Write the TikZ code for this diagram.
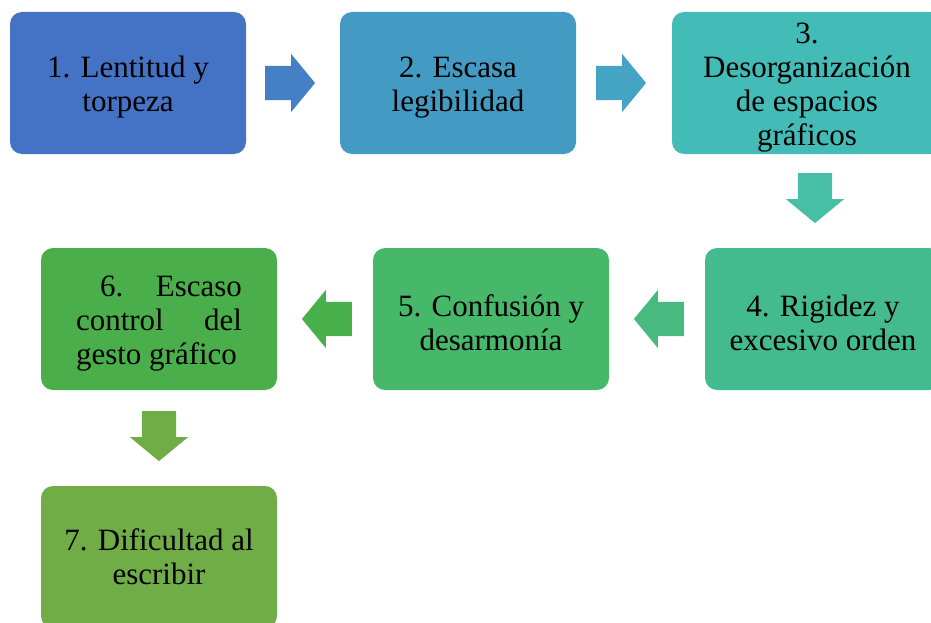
\documentclass[tikz,border=0pt]{standalone}
\usepackage{fontspec}
\setmainfont{Liberation Serif}
\newfontfamily\stagefont{Liberation Serif}
\usetikzlibrary{shapes.arrows,calc}

\definecolor{cBoxA}{HTML}{4472C4}
\definecolor{cBoxB}{HTML}{439BC3}
\definecolor{cBoxC}{HTML}{43BCB7}
\definecolor{cBoxD}{HTML}{44BA8F}
\definecolor{cBoxE}{HTML}{47B769}
\definecolor{cBoxF}{HTML}{4AAF4A}
\definecolor{cBoxG}{HTML}{70AD47}
\definecolor{cArrA}{HTML}{4580C6}
\definecolor{cArrB}{HTML}{45A3C3}
\definecolor{cArrC}{HTML}{47BFA7}
\definecolor{cArrD}{HTML}{48B97F}
\definecolor{cArrE}{HTML}{48B04B}
\definecolor{cArrF}{HTML}{70AD47}

% extra room above the first line, pushes the text a bit down
\newcommand{\padtop}{\rule{0pt}{29pt}}

\begin{document}
\begin{tikzpicture}[x=1pt,y=1pt,yscale=-1,
  stage/.style={rounded corners=12pt,minimum width=236pt,minimum height=142pt,
    inner sep=0pt,align=center,font=\stagefont\fontsize{31}{34}\selectfont},
  flowarrow/.style={single arrow,minimum height=50pt,minimum width=58pt,
    single arrow head extend=12pt,single arrow tip angle=101,inner sep=17pt}]
\useasboundingbox (0,0) rectangle (931,623);
\clip (0,0) rectangle (931,623);

%Rounded Rectangles
\node [stage,fill=cBoxA] (lentitud) at (128,83) {\padtop 1. Lentitud y\\torpeza};
\node [stage,fill=cBoxB] (escasa) at (458,83) {\padtop 2. Escasa\\legibilidad};
\node [stage,fill=cBoxC,minimum width=270pt] (desorg) at (807,83) {\padtop 3.\\Desorganización\\de espacios\\gráficos};
\node [stage,fill=cBoxD] (rigidez) at (823,319) {\padtop 4. Rigidez y\\excesivo orden};
\node [stage,fill=cBoxE] (confusion) at (491,319) {\padtop 5. Confusión y\\desarmonía};
\node [stage,fill=cBoxF] (control) at (159,319) {\hbox to 166pt{\padtop\hspace{24pt}6.\hfill Escaso}\\\hbox to 166pt{control\hfill del}\\\hbox to 166pt{gesto gráfico\hfill}};
\node [stage,fill=cBoxG] (dificultad) at (159,557) {7. Dificultad al\\escribir};

%Block Arrows
\node [flowarrow,fill=cArrA,xshift=-10pt] (ar1) at ($(lentitud.east)!0.5!(escasa.west)$) {};
\node [flowarrow,fill=cArrB,xshift=-10pt] (ar2) at ($(escasa.east)!0.5!(desorg.west)$) {};
\node [flowarrow,fill=cArrC,shape border rotate=270,yshift=10pt] (ar3) at ($(desorg.south)!0.5!(rigidez.north)$) {};
\node [flowarrow,fill=cArrD,shape border rotate=180,xshift=9pt] (ar4) at ($(rigidez.west)!0.5!(confusion.east)$) {};
\node [flowarrow,fill=cArrE,shape border rotate=180,xshift=9pt] (ar5) at ($(confusion.west)!0.5!(control.east)$) {};
\node [flowarrow,fill=cArrF,shape border rotate=270,yshift=9pt] (ar6) at ($(control.south)!0.5!(dificultad.north)$) {};
\end{tikzpicture}
\end{document}
